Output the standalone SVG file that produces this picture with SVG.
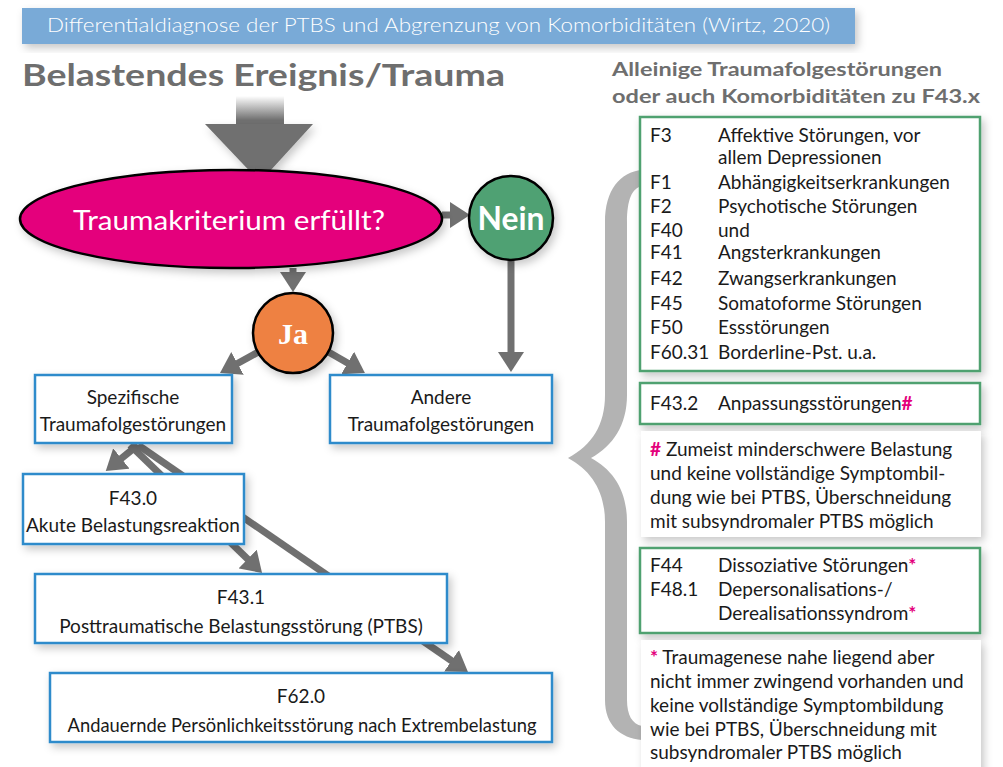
<svg xmlns="http://www.w3.org/2000/svg" width="1003" height="767" viewBox="0 0 1003 767">
<defs>
<style>
.t{font-family:Lato,"Open Sans","Liberation Sans",sans-serif;fill:#1a1a1a;font-size:19px}
.c{text-anchor:middle}
.hd{font-family:Lato,"Open Sans","Liberation Sans",sans-serif;font-weight:bold;fill:#6e6e6e}
.bb{fill:#fff;stroke:#2d8bcb;stroke-width:2.5}
.gb{fill:#fff;stroke:#4fa16f;stroke-width:2.5}
.nb{fill:#fff}
.cn{stroke:#707070;stroke-width:7;fill:none;marker-end:url(#ah)}
.pk{fill:#e4007c;font-weight:bold}
</style>
<marker id="ah" viewBox="0 0 20 26" refX="12" refY="13" markerWidth="20" markerHeight="26" markerUnits="userSpaceOnUse" orient="auto">
<path d="M0,0 L20,13 L0,26 z" fill="#707070"/>
</marker>
<filter id="sh" x="-10%" y="-10%" width="125%" height="135%">
<feDropShadow dx="3" dy="4" stdDeviation="4" flood-color="#000" flood-opacity="0.22"/>
</filter>
<linearGradient id="shaft" x1="0" y1="0" x2="0" y2="1">
<stop offset="0" stop-color="#707070" stop-opacity="0"/>
<stop offset="0.8" stop-color="#707070"/>
</linearGradient>
</defs>
<rect width="1003" height="767" fill="#fff"/>

<g id="title">
<rect x="22" y="8" width="833" height="36" fill="#79aad7" filter="url(#sh)"/>
<text x="47" y="32" font-family="Lato,'Open Sans',sans-serif" font-weight="300" font-size="20" fill="#fff" textLength="783" lengthAdjust="spacingAndGlyphs">Differentialdiagnose der PTBS und Abgrenzung von Komorbiditäten (Wirtz, 2020)</text>
</g>

<g id="heading-left">
<text class="hd" x="22" y="86" font-size="31" textLength="483" lengthAdjust="spacingAndGlyphs">Belastendes Ereignis/Trauma</text>
</g>
<g id="heading-right">
<text class="hd" x="612" y="76" font-size="18.5" textLength="330" lengthAdjust="spacingAndGlyphs">Alleinige Traumafolgestörungen</text>
<text class="hd" x="612" y="103" font-size="18.5" textLength="368" lengthAdjust="spacingAndGlyphs">oder auch Komorbiditäten zu F43.x</text>
</g>

<g id="brace">
<path d="M642,170 C620,172 605,190 605,222 L605,395 C605,425 592,445 568,458 C592,471 605,492 605,522 L605,700 C605,725 620,738 642,740 L642,726 C632,724 627,715 627,700 L627,522 C627,490 613,470 591,458 C613,446 627,425 627,395 L627,222 C627,200 632,188 642,186 Z" fill="#b3b3b3"/>
</g>

<g id="connectors">
<rect x="236" y="96" width="48" height="30" fill="url(#shaft)"/>
<polygon points="205,124 313,124 260,182" fill="#707070" filter="url(#sh)"/>
<line class="cn" x1="442" y1="215" x2="462" y2="215"/>
<line class="cn" x1="293" y1="268" x2="293" y2="284"/>
<line class="cn" x1="262" y1="350" x2="227" y2="369.2"/>
<line class="cn" x1="325" y1="350" x2="358" y2="369"/>
<line class="cn" x1="511" y1="260" x2="511" y2="364"/>
<line class="cn" x1="138" y1="445" x2="112" y2="466"/>
<line class="cn" x1="130" y1="445" x2="256.3" y2="567.4"/>
<line class="cn" x1="138" y1="445" x2="461.4" y2="667.5"/>
</g>

<g id="trauma-kriterium">
<ellipse cx="231" cy="219" rx="211" ry="49" fill="#e4007c" stroke="#000" stroke-width="2.5" filter="url(#sh)"/>
<text x="229" y="230" font-family="Lato,'Open Sans',sans-serif" font-size="27" fill="#fff" text-anchor="middle" textLength="312" lengthAdjust="spacingAndGlyphs">Traumakriterium erfüllt?</text>
</g>

<g id="nein">
<circle cx="511" cy="218" r="42" fill="#4fa173" stroke="#000" stroke-width="2.5" filter="url(#sh)"/>
<text x="511" y="230" font-family="Lato,'Open Sans',sans-serif" font-weight="bold" font-size="32" fill="#fff" text-anchor="middle" textLength="67" lengthAdjust="spacingAndGlyphs">Nein</text>
</g>

<g id="ja">
<circle cx="293" cy="333" r="40" fill="#ee8142" stroke="#000" stroke-width="2.5" filter="url(#sh)"/>
<text x="293" y="344" font-family="'Liberation Serif',serif" font-weight="bold" font-size="30" fill="#fff" text-anchor="middle">Ja</text>
</g>

<g id="spezifische">
<rect class="bb" x="35" y="375" width="197" height="68" filter="url(#sh)"/>
<text class="t c" x="133" y="404">Spezifische</text>
<text class="t c" x="133" y="431">Traumafolgestörungen</text>
</g>

<g id="andere">
<rect class="bb" x="330" y="375" width="222" height="68" filter="url(#sh)"/>
<text class="t c" x="441" y="404">Andere</text>
<text class="t c" x="441" y="431">Traumafolgestörungen</text>
</g>

<g id="f43-0">
<rect class="bb" x="23" y="474" width="221" height="70" filter="url(#sh)"/>
<text class="t c" x="133" y="505">F43.0</text>
<text class="t c" x="133" y="532">Akute Belastungsreaktion</text>
</g>

<g id="f43-1">
<rect class="bb" x="35" y="574" width="412" height="69" filter="url(#sh)"/>
<text class="t c" x="241" y="604">F43.1</text>
<text class="t c" x="241" y="633">Posttraumatische Belastungsstörung (PTBS)</text>
</g>

<g id="f62-0">
<rect class="bb" x="50" y="673" width="502" height="69" filter="url(#sh)"/>
<text class="t c" x="301" y="703">F62.0</text>
<text class="t c" x="302" y="732" textLength="469" lengthAdjust="spacingAndGlyphs">Andauernde Persönlichkeitsstörung nach Extrembelastung</text>
</g>

<g id="komorbiditaeten">
<rect class="gb" x="640" y="117" width="340" height="254" filter="url(#sh)"/>
<text class="t" x="650" y="142">F3</text><text class="t" x="718" y="142">Affektive Störungen, vor</text>
<text class="t" x="718" y="164">allem Depressionen</text>
<text class="t" x="650" y="189">F1</text><text class="t" x="718" y="189">Abhängigkeitserkrankungen</text>
<text class="t" x="650" y="213">F2</text><text class="t" x="718" y="213">Psychotische Störungen</text>
<text class="t" x="650" y="237">F40</text><text class="t" x="718" y="237">und</text>
<text class="t" x="650" y="259">F41</text><text class="t" x="718" y="259">Angsterkrankungen</text>
<text class="t" x="650" y="285">F42</text><text class="t" x="718" y="285">Zwangserkrankungen</text>
<text class="t" x="650" y="310">F45</text><text class="t" x="718" y="310">Somatoforme Störungen</text>
<text class="t" x="650" y="334">F50</text><text class="t" x="718" y="334">Essstörungen</text>
<text class="t" x="650" y="359">F60.31</text><text class="t" x="718" y="359">Borderline-Pst. u.a.</text>
</g>

<g id="f43-2">
<rect class="gb" x="640" y="383" width="340" height="41" filter="url(#sh)"/>
<text class="t" x="650" y="410">F43.2</text>
<text class="t" x="718" y="410">Anpassungsstörungen<tspan class="pk">#</tspan></text>
</g>

<g id="note-anpassung">
<rect class="nb" x="641" y="431" width="340" height="106" filter="url(#sh)"/>
<text class="t" x="650" y="456"><tspan class="pk">#</tspan> Zumeist minderschwere Belastung</text>
<text class="t" x="650" y="480">und keine vollständige Symptombil-</text>
<text class="t" x="650" y="504">dung wie bei PTBS, Überschneidung</text>
<text class="t" x="650" y="528">mit subsyndromaler PTBS möglich</text>
</g>

<g id="dissoziativ">
<rect class="gb" x="640" y="548" width="340" height="85" filter="url(#sh)"/>
<text class="t" x="650" y="572">F44</text><text class="t" x="718" y="572">Dissoziative Störungen<tspan class="pk">*</tspan></text>
<text class="t" x="650" y="596">F48.1</text><text class="t" x="718" y="596">Depersonalisations-/</text>
<text class="t" x="718" y="620">Derealisationssyndrom<tspan class="pk">*</tspan></text>
</g>

<g id="note-dissoziativ">
<rect class="nb" x="641" y="640" width="340" height="135" filter="url(#sh)"/>
<text class="t" x="650" y="664"><tspan class="pk">*</tspan> Traumagenese nahe liegend aber</text>
<text class="t" x="650" y="688">nicht immer zwingend vorhanden und</text>
<text class="t" x="650" y="712">keine vollständige Symptombildung</text>
<text class="t" x="650" y="736">wie bei PTBS, Überschneidung mit</text>
<text class="t" x="650" y="759">subsyndromaler PTBS möglich</text>
</g>
</svg>
